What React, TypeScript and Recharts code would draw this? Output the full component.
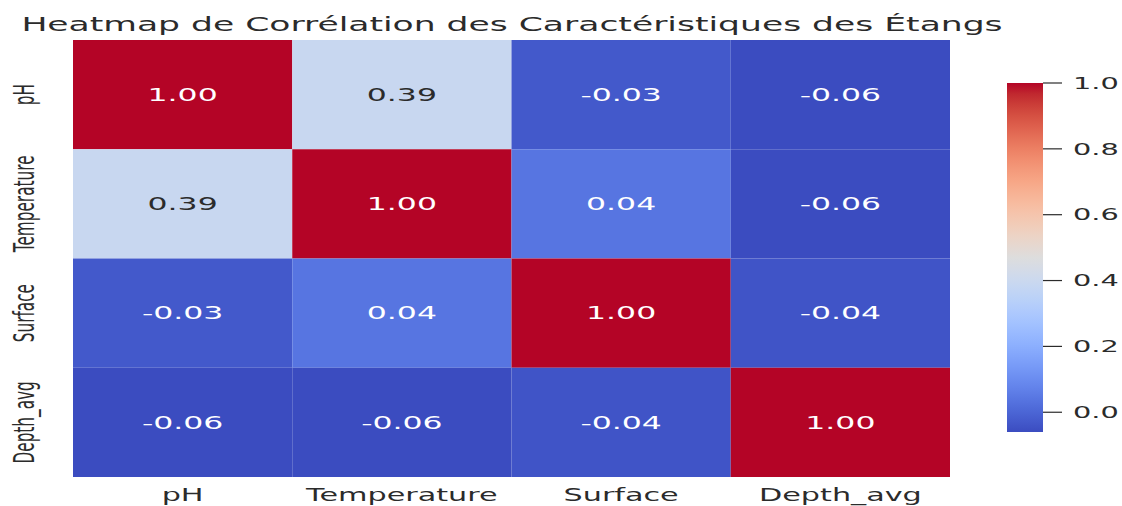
import React from "react";
import {
  ScatterChart,
  Scatter,
  XAxis,
  YAxis,
  ReferenceArea,
  BarChart,
  Bar,
} from "recharts";

const FEATURES = ["pH", "Temperature", "Surface", "Depth_avg"];
const ROW_PH = [1.0, 0.39, -0.03, -0.06];
const ROW_TEMPERATURE = [0.39, 1.0, 0.04, -0.06];
const ROW_SURFACE = [-0.03, 0.04, 1.0, -0.04];
const ROW_DEPTH_AVG = [-0.06, -0.06, -0.04, 1.0];
const MATRIX = [ROW_PH, ROW_TEMPERATURE, ROW_SURFACE, ROW_DEPTH_AVG];

const COLOR_MIN = -0.06;
const COLOR_MAX = 1.0;
const COLORBAR_TICKS = [0, 0.2, 0.4, 0.6, 0.8, 1.0];

const TITLE = "Heatmap de Corrélation des Caractéristiques des Étangs";

// the source picture is stretched sideways, so text gets a horizontal scale
const SX = 1.8;
const FONT = "'DejaVu Sans', sans-serif";
const INK = "#2b2b2b";

// matplotlib coolwarm, sampled every 1/32
const COOLWARM: number[][] = [
  [59, 76, 192], [68, 90, 204], [77, 104, 215], [87, 117, 225],
  [98, 130, 234], [108, 142, 241], [119, 154, 247], [130, 165, 251],
  [141, 176, 254], [152, 185, 255], [163, 194, 255], [174, 201, 253],
  [184, 208, 249], [194, 213, 244], [204, 217, 238], [213, 219, 230],
  [221, 221, 221], [229, 216, 209], [236, 211, 197], [241, 204, 184],
  [245, 196, 172], [247, 187, 159], [247, 177, 147], [247, 166, 134],
  [244, 154, 123], [241, 141, 111], [236, 127, 99], [229, 112, 88],
  [222, 96, 77], [213, 80, 66], [203, 62, 56], [192, 40, 47],
  [180, 4, 38],
];

function coolwarm(t: number) {
  const c = Math.max(0, Math.min(1, t)) * (COOLWARM.length - 1);
  const i = Math.min(Math.floor(c), COOLWARM.length - 2);
  const f = c - i;
  const a = COOLWARM[i];
  const b = COOLWARM[i + 1];
  const rgb = a.map((v, k) => Math.round(v + (b[k] - v) * f));
  return `rgb(${rgb[0]},${rgb[1]},${rgb[2]})`;
}

const norm = (v: number) => (v - COLOR_MIN) / (COLOR_MAX - COLOR_MIN);

const cells = MATRIX.flatMap((row, r) =>
  row.map((v, c) => ({ row: r, col: c, x: c + 0.5, y: r + 0.5, v }))
);
const centerTicks = FEATURES.map((_, i) => i + 0.5);

const XTick = (props: any) => {
  const name = FEATURES[Math.floor(props.payload.value)];
  return (
    <g transform={`translate(${props.x},${props.y + 24}) scale(${SX},1)`}>
      <text textAnchor="middle" fontFamily={FONT} fontSize={16.8} fill={INK}>
        {name}
      </text>
    </g>
  );
};

const YTick = (props: any) => {
  const name = FEATURES[Math.floor(props.payload.value)];
  return (
    <g transform={`translate(34,${props.y}) scale(${SX},1) rotate(-90)`}>
      <text textAnchor="middle" fontFamily={FONT} fontSize={15.3} fill={INK}>
        {name}
      </text>
    </g>
  );
};

const CellText = (props: any) => {
  const v = props.payload.v;
  const t = norm(v);
  const light = t > 0.25 && t < 0.75;
  return (
    <g transform={`translate(${props.cx},${props.cy}) scale(${SX},1)`}>
      <text
        textAnchor="middle"
        dy="0.36em"
        fontFamily={FONT}
        fontSize={17.5}
        fill={light ? INK : "#ffffff"}
      >
        {v.toFixed(2)}
      </text>
    </g>
  );
};

const BarTick = (props: any) => (
  <g transform={`translate(${props.x},${props.y}) scale(${SX},1)`}>
    <text textAnchor="start" dy="0.36em" fontFamily={FONT} fontSize={16} fill={INK}>
      {Number(props.payload.value).toFixed(1)}
    </text>
  </g>
);

const colorbarData = [{ name: "cb", range: [COLOR_MIN, COLOR_MAX] }];
const gradientStops = COOLWARM.map((_, i) => i / (COOLWARM.length - 1));

export default function App() {
  return (
    <div style={{ position: "absolute", left: 0, top: 0, width: 1122, height: 506, background: "#fff" }}>
      <svg width={1122} height={40} style={{ position: "absolute", left: 0, top: 0 }}>
        <g transform={`translate(512,31) scale(${SX},1)`}>
          <text textAnchor="middle" fontFamily={FONT} fontSize={19.2} fill={INK}>
            {TITLE}
          </text>
        </g>
      </svg>

      <div style={{ position: "absolute", left: 0, top: 0 }}>
        <ScatterChart width={950} height={506} margin={{ top: 40, right: 0, bottom: 0, left: 0 }}>
          <XAxis
            type="number"
            dataKey="x"
            domain={[0, FEATURES.length]}
            ticks={centerTicks}
            axisLine={false}
            tickLine={false}
            tickSize={0}
            tickMargin={0}
            height={29}
            tick={<XTick />}
            allowDataOverflow
          />
          <YAxis
            type="number"
            dataKey="y"
            domain={[0, FEATURES.length]}
            reversed
            ticks={centerTicks}
            axisLine={false}
            tickLine={false}
            tickSize={0}
            tickMargin={0}
            width={73}
            tick={<YTick />}
            allowDataOverflow
          />
          {cells.map((c) => (
            <ReferenceArea
              key={`${c.row}-${c.col}`}
              x1={c.col}
              x2={c.col + 1}
              y1={c.row}
              y2={c.row + 1}
              fill={coolwarm(norm(c.v))}
              fillOpacity={1}
              stroke="none"
              ifOverflow="visible"
            />
          ))}
          <Scatter data={cells} shape={<CellText />} isAnimationActive={false} />
        </ScatterChart>
      </div>

      <div style={{ position: "absolute", left: 1007, top: 0 }}>
        <BarChart
          width={115}
          height={506}
          data={colorbarData}
          margin={{ top: 83, right: 0, bottom: 74, left: 0 }}
          barCategoryGap={0}
        >
          <defs>
            <linearGradient id="coolwarmGrad" x1="0" y1="1" x2="0" y2="0">
              {gradientStops.map((s, i) => (
                <stop key={i} offset={s} stopColor={coolwarm(s)} />
              ))}
            </linearGradient>
          </defs>
          <XAxis dataKey="name" hide />
          <YAxis
            orientation="right"
            type="number"
            domain={[COLOR_MIN, COLOR_MAX]}
            ticks={COLORBAR_TICKS}
            allowDataOverflow
            axisLine={false}
            tickSize={19}
            tickMargin={11}
            tickLine={{ stroke: INK, strokeWidth: 1.2 }}
            width={79}
            tick={<BarTick />}
          />
          <Bar dataKey="range" fill="url(#coolwarmGrad)" isAnimationActive={false} />
        </BarChart>
      </div>
    </div>
  );
}
